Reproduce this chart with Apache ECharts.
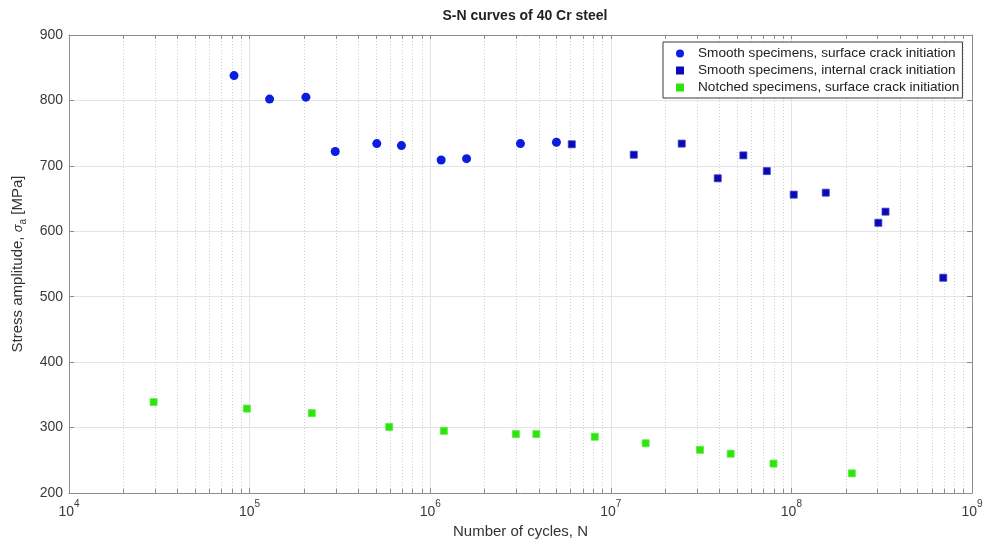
<!DOCTYPE html>
<html>
<head>
<meta charset="utf-8">
<script src="https://cdn.jsdelivr.net/npm/echarts@6/dist/echarts.min.js"></script>
<style>
  html, body { margin: 0; padding: 0; background: #fff; }
  #main { width: 985px; height: 544px; }
</style>
</head>
<body>
<div id="main"></div>
<script>
// 光滑试样，表面起裂
var smoothSurfN = [8.2e4, 1.29e5, 2.05e5, 2.98e5, 5.06e5, 6.93e5, 1.15e6, 1.59e6, 3.16e6, 5.0e6]
var smoothSurfS = [838, 802, 805, 722, 734, 731, 709, 711, 734, 736]
// 光滑试样，内部起裂
var smoothIntN = [6.08e6, 1.34e7, 2.47e7, 3.91e7, 5.42e7, 7.31e7, 1.03e8, 1.55e8, 3.03e8, 3.32e8, 6.93e8]
var smoothIntS = [733, 717, 734, 681, 716, 692, 656, 659, 613, 630, 529]
// 缺口试样，表面起裂
var notchedN = [2.94e4, 9.66e4, 2.21e5, 5.93e5, 1.19e6, 2.98e6, 3.87e6, 8.15e6, 1.56e7, 3.12e7, 4.61e7, 7.96e7, 2.16e8]
var notchedS = [339, 329, 322, 301, 295, 290, 290, 286, 276, 266, 260, 245, 230]

var names = [
    'Smooth specimens, surface crack initiation',
    'Smooth specimens, internal crack initiation',
    'Notched specimens, surface crack initiation',
]
var majorTicks = [1e4, 1e5, 1e6, 1e7, 1e8, 1e9]
var minorTicks = []
for (var e = 4; e < 9; e++) {
    for (var m = 2; m <= 9; m++) minorTicks.push(m * Math.pow(10, e))
}

function pairs(xs, ys) {
    return xs.map(function (x, i) { return [x, ys[i]] })
}

var axisGray = '#8c8c8c'
var labelColor = '#3a3a3a'
var font = 'Liberation Sans, Arial, sans-serif'

var chart = echarts.init(document.getElementById('main'))
var option = {
    animation: false,
    textStyle: { fontFamily: font },
    title: {
        text: 'S-N curves of 40 Cr steel',
        left: 520,
        textAlign: 'center',
        top: 4,
        textStyle: { fontSize: 14, fontWeight: 'bold', color: '#222', fontFamily: font },
    },
    legend: {
        orient: 'vertical',
        left: 663,
        top: 42,
        padding: [3, 3, 2, 13],
        itemGap: 0,
        itemWidth: 8,
        itemHeight: 8,
        borderColor: '#3a3a3a',
        borderWidth: 1,
        backgroundColor: '#fff',
        itemStyle: { borderWidth: 0 },
        textStyle: { fontSize: 13.6, color: '#222', lineHeight: 17, padding: [0, 0, 0, 9], fontFamily: font },
        data: [
            { name: names[0], icon: 'circle' },
            { name: names[1], icon: 'rect' },
            { name: names[2], icon: 'rect' },
        ],
    },
    grid: { left: 69, right: 13, top: 35, bottom: 51, outerBoundsMode: 'none' },
    xAxis: [
        {
            type: 'log',
            logBase: 10,
            min: 1e4,
            max: 1e9,
            position: 'bottom',
            name: 'Number of cycles, N',
            nameLocation: 'middle',
            nameGap: 31,
            nameTextStyle: { fontSize: 15, color: '#333', fontFamily: font },
            axisLine: { lineStyle: { color: axisGray } },
            axisTick: { inside: true, length: 5, lineStyle: { color: axisGray } },
            splitLine: { show: true, lineStyle: { color: '#e4e4e4', width: 1 } },
            axisLabel: {
                margin: 6,
                formatter: function (v) {
                    return '{b|10}{p|' + Math.round(Math.log10(v)) + '}'
                },
                rich: {
                    b: { fontSize: 14, color: labelColor, lineHeight: 20, verticalAlign: 'bottom', fontFamily: font },
                    p: { fontSize: 10, color: labelColor, lineHeight: 20, verticalAlign: 'top', fontFamily: font },
                },
            },
        },
        {
            type: 'log',
            logBase: 10,
            min: 1e4,
            max: 1e9,
            position: 'bottom',
            axisLine: { show: false },
            axisLabel: { show: false },
            axisTick: { show: true, inside: true, length: 4, customValues: minorTicks, lineStyle: { color: axisGray } },
            splitLine: { show: true, lineStyle: { color: '#cfcfcf', type: [1, 2], width: 1 } },
        },
        {
            type: 'log',
            logBase: 10,
            min: 1e4,
            max: 1e9,
            position: 'top',
            axisLine: { lineStyle: { color: axisGray } },
            axisLabel: { show: false },
            axisTick: { show: true, inside: true, length: 4, customValues: majorTicks.concat(minorTicks), lineStyle: { color: axisGray } },
            splitLine: { show: false },
        },
    ],
    yAxis: [
        {
            type: 'value',
            min: 200,
            max: 900,
            interval: 100,
            position: 'left',
            name: '{n|Stress amplitude, }{s|σ}{u|a}{n| [MPa]}',
            nameLocation: 'middle',
            nameGap: 41,
            nameTextStyle: {
                rich: {
                    n: { fontSize: 15, color: '#333', lineHeight: 20, verticalAlign: 'middle', fontFamily: font },
                    s: { fontSize: 13, color: '#333', lineHeight: 20, fontStyle: 'italic', verticalAlign: 'middle', fontFamily: font },
                    u: { fontSize: 10, color: '#333', lineHeight: 20, verticalAlign: 'bottom', fontFamily: font },
                },
            },
            axisLine: { show: true, lineStyle: { color: axisGray } },
            axisTick: { show: true, inside: true, length: 5, lineStyle: { color: axisGray } },
            splitLine: { show: true, lineStyle: { color: '#e4e4e4', width: 1 } },
            axisLabel: { fontSize: 14, color: labelColor, margin: 6, fontFamily: font },
        },
        {
            type: 'value',
            min: 200,
            max: 900,
            interval: 100,
            position: 'right',
            axisLine: { show: true, lineStyle: { color: axisGray } },
            axisTick: { show: true, inside: true, length: 5, lineStyle: { color: axisGray } },
            splitLine: { show: false },
            axisLabel: { show: false },
        },
    ],
    series: [
        {
            name: names[0],
            type: 'scatter',
            symbol: 'circle',
            symbolSize: 9,
            itemStyle: { color: '#0a1ee0', opacity: 1 },
            data: pairs(smoothSurfN, smoothSurfS),
        },
        {
            name: names[1],
            type: 'scatter',
            symbol: 'rect',
            symbolSize: 7,
            itemStyle: { color: '#0a0ab4', borderColor: '#3a3ad0', borderWidth: 0.8, opacity: 1 },
            data: pairs(smoothIntN, smoothIntS),
        },
        {
            name: names[2],
            type: 'scatter',
            symbol: 'rect',
            symbolSize: 7,
            itemStyle: { color: '#2de40c', borderColor: '#5cec40', borderWidth: 0.8, opacity: 1 },
            data: pairs(notchedN, notchedS),
        },
    ],
}
chart.setOption(option)
</script>
</body>
</html>
